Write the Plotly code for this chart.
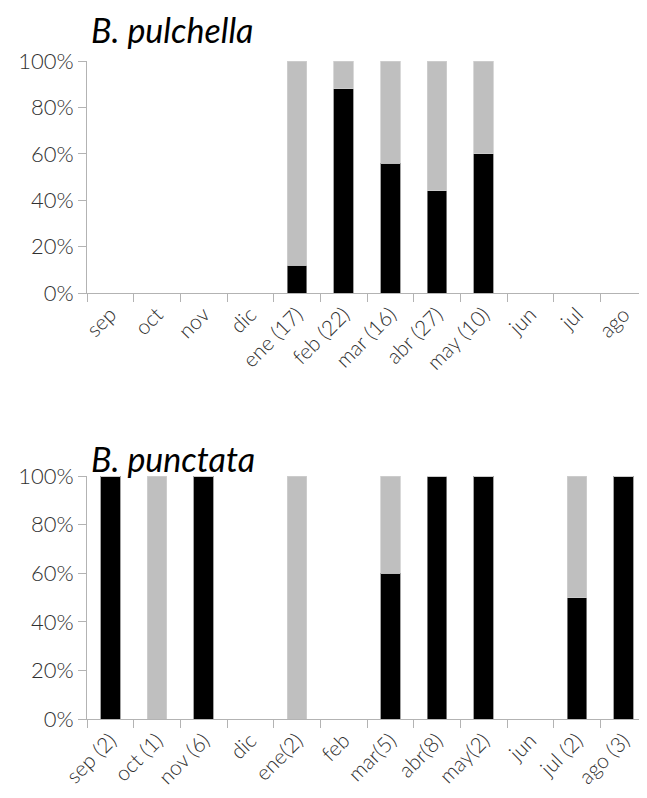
import plotly.graph_objects as go

# B. pulchella
cats_pul = ["sep", "oct", "nov", "dic", "ene (17)", "feb (22)", "mar (16)",
            "abr (27)", "may (10)", "jun", "jul", "ago"]
pul_black = [None, None, None, None, 12, 88, 56, 44, 60, None, None, None]
pul_gray = [None, None, None, None, 88, 12, 44, 56, 40, None, None, None]

# B. punctata
cats_pun = ["sep (2)", "oct (1)", "nov (6)", "dic", "ene(2)", "feb", "mar(5)",
            "abr(8)", "may(2)", "jun", "jul (2)", "ago (3)"]
pun_black = [100, 0, 100, None, 0, None, 60, 100, 100, None, 50, 100]
pun_gray = [0, 100, 0, None, 100, None, 40, 0, 0, None, 50, 0]

yticks = [0, 20, 40, 60, 80, 100]
ytick_text = ["0%", "20%", "40%", "60%", "80%", "100%"]

BLACK = "#000000"
GRAY = "#bfbfbf"
FONT = "Lato"

fig = go.Figure()

def add_pair(cats, blk, gry, xa, ya):
    fig.add_trace(go.Bar(x=cats, y=blk, marker=dict(color=BLACK, line=dict(color="#8c8c8c", width=0.8)),
                         xaxis=xa, yaxis=ya, showlegend=False))
    fig.add_trace(go.Bar(x=cats, y=gry, marker=dict(color=GRAY, line=dict(color="#d0d0d0", width=0.8)),
                         xaxis=xa, yaxis=ya, showlegend=False))

add_pair(cats_pul, pul_black, pul_gray, "x", "y")
add_pair(cats_pun, pun_black, pun_gray, "x2", "y2")

# page body adds an 8px offset; compensate so the plot lands where the reference has it
OFF = 8
H = 798
W = 647
L = 87 - OFF
R = OFF
PW = W - L - R

def ydom(top_px, bot_px):
    return [1 - (bot_px - OFF) / H, 1 - (top_px - OFF) / H]

ytickfont = dict(family=FONT, size=22, color="#303030", weight=300)
xtickfont = dict(family=FONT, size=21, color="#303030", weight=300)
axis_common = dict(showline=True, linecolor="#b3b3b3", linewidth=1, ticks="outside",
                   tickcolor="#b3b3b3", ticklen=8, showgrid=False, zeroline=False,
                   automargin=False)
xcommon = dict(axis_common, tickson="boundaries", tickfont=xtickfont)
ycommon = dict(axis_common, range=[0, 100], tickvals=yticks, ticktext=ytick_text,
               tickfont=ytickfont)

fig.update_layout(
    width=W, height=H,
    margin=dict(l=L, r=R, t=0, b=0, autoexpand=False),
    barmode="stack", bargap=0.58,
    plot_bgcolor="white", paper_bgcolor="white",
    font=dict(family=FONT, color="#303030"),
    xaxis=dict(xcommon, domain=[0, 1], anchor="y"),
    yaxis=dict(ycommon, domain=ydom(61, 293), anchor="x"),
    xaxis2=dict(xcommon, domain=[0, 1], anchor="y2"),
    yaxis2=dict(ycommon, domain=ydom(476, 719), anchor="x2"),
    annotations=[
        dict(text="<i>B. pulchella</i>", x=(90 - 87) / PW, y=1,
             xref="paper", yref="paper", xanchor="left", yanchor="top", borderpad=0,
             showarrow=False, font=dict(family=FONT, size=34, color="#000000")),
        dict(text="<i>B. punctata</i>", x=(90 - 87) / PW, y=1 - (437 - OFF) / H,
             xref="paper", yref="paper", xanchor="left", yanchor="top", borderpad=0,
             showarrow=False, font=dict(family=FONT, size=34, color="#000000")),
    ],
)
fig.update_xaxes(tickangle=315)

fig.write_html("out.html")
